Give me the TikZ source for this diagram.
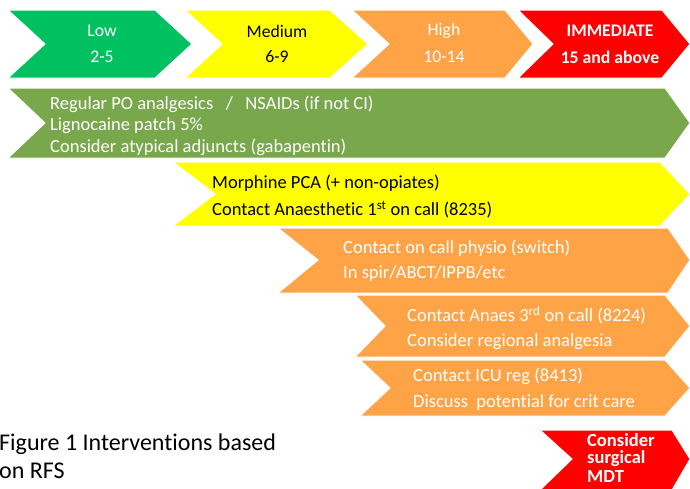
\documentclass[tikz,border=0pt]{standalone}
\usepackage{fontspec}
\setmainfont{Carlito}[Ligatures=NoCommon]
\definecolor{cgreen}{HTML}{00C060}
\definecolor{cband}{HTML}{78A84B}
\definecolor{cyellow}{HTML}{FFFF00}
\definecolor{corange}{HTML}{FFA347}
\definecolor{cred}{HTML}{FF0000}
\tikzset{
  shp/.style={draw=white,line width=1pt},
  txt/.style={font=\fontsize{18.5}{20}\selectfont,inner sep=0pt,anchor=west},
  ctxt/.style={font=\fontsize{17.7}{20}\selectfont,inner sep=0pt,anchor=center},
  btxt/.style={font=\fontsize{18.5}{20}\selectfont\bfseries,inner sep=0pt,anchor=west},
  captxt/.style={font=\fontsize{24}{26}\selectfont,inner sep=0pt,anchor=west}
}
\begin{document}
\begin{tikzpicture}[x=1pt,y=-1pt]
\useasboundingbox (0,0) rectangle (690,488);
\fill[white] (0,0) rectangle (690,488);
% top chevrons
\path[shp,fill=cgreen] (8,10) -- (155,10) -- (192,44) -- (155,78) -- (8,78) -- (45,44) -- cycle;
\path[shp,fill=cyellow] (185,10) -- (330,10) -- (368,44) -- (330,78) -- (185,78) -- (222,44) -- cycle;
\path[shp,fill=corange] (352,10) -- (505,10) -- (533,44) -- (505,78) -- (352,78) -- (389,44) -- cycle;
\path[shp,fill=cred] (518,10) -- (662,10) -- (690,44) -- (662,78) -- (518,78) -- (553,44) -- cycle;
\node[ctxt,text=white] (low) at (102,31) {Low};
\node[ctxt,text=white] (lowr) at (102,57) {2-5};
\node[ctxt,text=black] (med) at (277,31) {Medium};
\node[ctxt,text=black] (medr) at (277,57) {6-9};
\node[ctxt,text=white] (high) at (444,31) {High};
\node[ctxt,text=white] (highr) at (444,57) {10-14};
\node[ctxt,text=white,font=\fontsize{17.7}{20}\selectfont\bfseries] (imm) at (610,31) {IMMEDIATE};
\node[ctxt,text=white,font=\fontsize{17.7}{20}\selectfont\bfseries] (immr) at (610,57) {15 and above};
% bands
\path[shp,fill=cband] (8,88) -- (665,88) -- (690,123) -- (665,158) -- (8,158) -- (45,123) -- cycle;
\node[txt,text=white] (b1a) at (50,104) {Regular PO analgesics~~~/~~~NSAIDs (if not CI)};
\node[txt,text=white] (b1b) at (50,126) {Lignocaine patch 5\%};
\node[txt,text=white] (b1c) at (50,147) {Consider atypical adjuncts (gabapentin)};
\path[shp,fill=cyellow] (173,162) -- (660,162) -- (690,194) -- (660,226) -- (173,226) -- (215,194) -- cycle;
\node[txt,text=black] (b2a) at (212,183) {Morphine PCA (+ non-opiates)};
\node[txt,text=black] (b2b) at (212,210) {Contact Anaesthetic 1\textsuperscript{st} on call (8235)};
\path[shp,fill=corange] (278,228) -- (668,228) -- (690,260) -- (668,293) -- (278,293) -- (318,260) -- cycle;
\node[txt,text=white] (b3a) at (343,248) {Contact on call physio (switch)};
\node[txt,text=white] (b3b) at (343,274) {In spir/ABCT/IPPB/etc};
\path[shp,fill=corange] (355,295) -- (665,295) -- (690,326) -- (665,357) -- (355,357) -- (385,326) -- cycle;
\node[txt,text=white] (b4a) at (407,315) {Contact Anaes 3\textsuperscript{rd} on call (8224)};
\node[txt,text=white] (b4b) at (407,342) {Consider regional analgesia};
\path[shp,fill=corange] (360,360) -- (665,360) -- (690,388) -- (665,416) -- (360,416) -- (390,388) -- cycle;
\node[txt,text=white] (b5a) at (413,376) {Contact ICU reg (8413)};
\node[txt,text=white] (b5b) at (413,403) {Discuss~ potential for crit care};
\path[shp,fill=cred] (540,430) -- (672,430) -- (690,459) -- (672,490) -- (540,490) -- (572,459) -- cycle;
\node[btxt,text=white] (s1) at (587,440) {Consider};
\node[btxt,text=white] (s2) at (587,458.5) {surgical};
\node[btxt,text=white] (s3) at (587,476.5) {MDT};
% caption
\node[captxt] (c1) at (-1,444) {Figure 1 Interventions based};
\node[captxt] (c2) at (-1,471) {on RFS};
\end{tikzpicture}
\end{document}
